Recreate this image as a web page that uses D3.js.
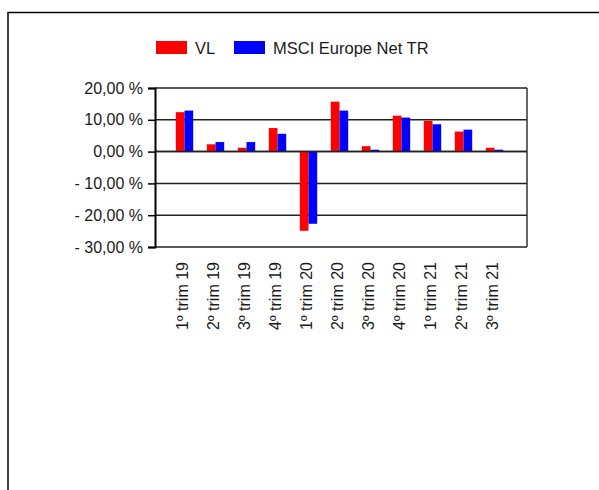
<!DOCTYPE html>
<html lang="es">
<head>
  <meta charset="UTF-8">
  <title>VL vs MSCI Europe Net TR</title>
  <script src="https://d3js.org/d3.v7.min.js"></script>
  <style>
    body { margin: 0; background: #fff; }
    text { font-family: "Liberation Sans", Arial, sans-serif; fill: #1a1a1a; }
  </style>
</head>
<body>
<div id="chart"></div>
<script>
  // data (quarterly return, %)
  const quarters = ["1º trim 19", "2º trim 19", "3º trim 19", "4º trim 19",
                    "1º trim 20", "2º trim 20", "3º trim 20", "4º trim 20",
                    "1º trim 21", "2º trim 21", "3º trim 21"];
  const vl   = [12.4, 2.3, 1.2, 7.4, -24.9, 15.7, 1.7, 11.3, 9.7, 6.3, 1.2];
  const msci = [12.9, 3.0, 3.0, 5.6, -22.7, 12.9, 0.6, 10.7, 8.6, 6.9, 0.6];
  const seriesNames = ["VL", "MSCI Europe Net TR"];
  const seriesColors = ["#ff0000", "#0000ff"];
  const yTicks = [20, 10, 0, -10, -20, -30];

  const width = 599, height = 490;
  const plot = {left: 155, right: 527, top: 88, bottom: 247};

  const svg = d3.select("#chart").append("svg")
    .attr("width", width)
    .attr("height", height);

  // outer frame (runs off the right and bottom of the picture)
  svg.append("rect")
    .attr("x", 8).attr("y", 12.5)
    .attr("width", 700).attr("height", 600)
    .attr("fill", "none")
    .attr("stroke", "#000")
    .attr("stroke-width", 1.5);

  const y = d3.scaleLinear().domain([-30, 20]).range([plot.bottom, plot.top]);
  const x = d3.scaleBand().domain(quarters).range([169, 510]);
  const barW = 8.7;

  const loc = d3.formatLocale({decimal: ",", thousands: ".", grouping: [3], currency: ["", "€"]});
  const f2 = loc.format(".2f");
  const fmt = v => (v < 0 ? "- " : "") + f2(Math.abs(v)) + " %";

  // grid lines
  svg.append("g").selectAll("line")
    .data(yTicks)
    .join("line")
    .attr("x1", plot.left).attr("x2", plot.right)
    .attr("y1", d => y(d)).attr("y2", d => y(d))
    .attr("stroke", "#222")
    .attr("stroke-width", 1.5);

  // right border
  svg.append("line")
    .attr("x1", plot.right).attr("x2", plot.right)
    .attr("y1", plot.top).attr("y2", plot.bottom)
    .attr("stroke", "#333")
    .attr("stroke-width", 1.5);

  // bars
  const series = [vl, msci];
  series.forEach((vals, s) => {
    svg.append("g").selectAll("rect")
      .data(vals)
      .join("rect")
      .attr("x", (d, i) => x(quarters[i]) + x.bandwidth() / 2 - barW + s * barW)
      .attr("y", d => y(Math.max(0, d)))
      .attr("width", barW)
      .attr("height", d => Math.abs(y(d) - y(0)))
      .attr("fill", seriesColors[s]);
  });

  // zero line on top of bars
  svg.append("line")
    .attr("x1", plot.left).attr("x2", plot.right)
    .attr("y1", y(0)).attr("y2", y(0))
    .attr("stroke", "#222")
    .attr("stroke-width", 1.5);

  // y axis
  const yAxis = svg.append("g")
    .attr("transform", "translate(" + plot.left + ",0)")
    .call(d3.axisLeft(y).tickValues(yTicks).tickFormat(fmt).tickSize(7).tickPadding(5));
  yAxis.select(".domain").attr("stroke", "#000").attr("stroke-width", 2);
  yAxis.selectAll(".tick line").attr("stroke", "#000").attr("stroke-width", 1.5);
  yAxis.selectAll("text")
    .attr("fill", "#1a1a1a")
    .style("font-size", "16px")
    .style("font-family", "'Liberation Sans', Arial, sans-serif");

  // x labels (rotated)
  svg.append("g").selectAll("text")
    .data(quarters)
    .join("text")
    .attr("transform", d => "translate(" + (x(d) + x.bandwidth() / 2 - 2) + ",262) rotate(-90)")
    .attr("dy", "0.35em")
    .attr("text-anchor", "end")
    .style("font-size", "16px")
    .text(d => d);

  // legend
  const legX = [156, 234];
  const legend = svg.append("g").selectAll("g")
    .data(seriesNames)
    .join("g")
    .attr("transform", (d, i) => "translate(" + legX[i] + ",41)");
  legend.append("rect")
    .attr("width", 31).attr("height", 13)
    .attr("fill", (d, i) => seriesColors[i]);
  legend.append("text")
    .attr("x", 39).attr("y", 13)
    .style("font-size", "16.5px")
    .text(d => d);
</script>
</body>
</html>
